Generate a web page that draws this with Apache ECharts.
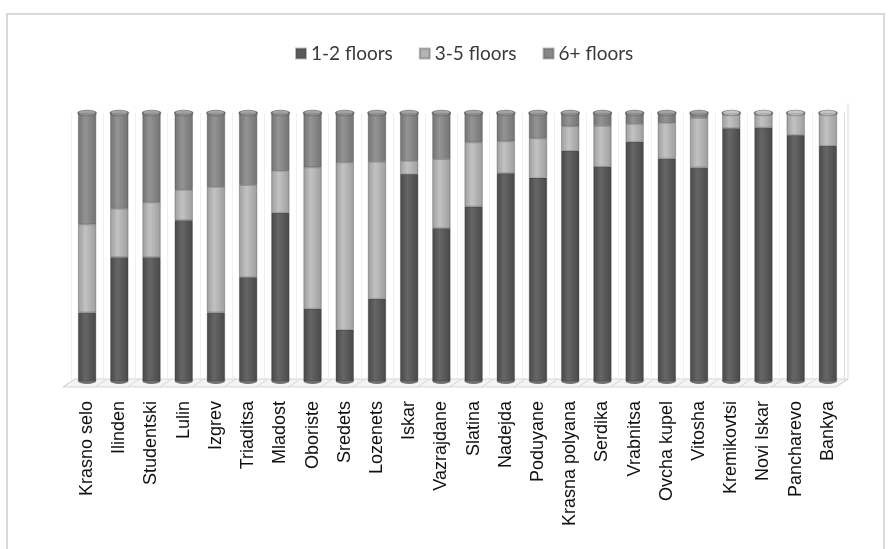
<!DOCTYPE html>
<html>
<head>
<meta charset="utf-8">
<script src="https://cdn.jsdelivr.net/npm/echarts@6/dist/echarts.min.js"></script>
<style>
  html, body { margin: 0; padding: 0; background: #fff; }
  #chart { width: 893px; height: 549px; }
</style>
</head>
<body>
<div id="chart"></div>
<script>
// Sofia districts: share of buildings by number of floors (%)
const districts = ['Krasno selo', 'Ilinden', 'Studentski', 'Lulin', 'Izgrev', 'Triaditsa', 'Mladost',
  'Oboriste', 'Sredets', 'Lozenets', 'Iskar', 'Vazrajdane', 'Slatina', 'Nadejda', 'Poduyane',
  'Krasna polyana', 'Serdika', 'Vrabnitsa', 'Ovcha kupel', 'Vitosha', 'Kremikovtsi', 'Novi Iskar',
  'Pancharevo', 'Bankya'];

const floors12 = [25.6, 46.2, 46.2, 60.0, 25.6, 38.7, 62.8, 27.0, 19.1, 30.7, 77.2, 57.0,
  65.1, 77.5, 75.8, 85.9, 80.0, 89.3, 83.0, 79.7, 94.3, 94.6, 91.8, 87.8];
const floors35 = [32.8, 18.1, 20.4, 11.3, 46.8, 34.4, 15.6, 52.7, 62.4, 51.1, 4.9, 25.8,
  23.9, 11.9, 14.7, 9.1, 15.2, 6.6, 13.3, 18.4, 5.0, 4.7, 7.8, 11.8];
const floors6 = [41.6, 35.7, 33.4, 28.7, 27.6, 26.9, 21.6, 20.3, 18.5, 18.2, 17.9, 17.2,
  11.0, 10.6, 9.5, 5.0, 4.8, 4.1, 3.7, 1.9, 0.7, 0.7, 0.4, 0.4];

const seriesNames = ['1-2 floors', '3-5 floors', '6+ floors'];

function cylinder(edge, mid) {
  return new echarts.graphic.LinearGradient(0, 0, 1, 0, [
    { offset: 0, color: edge },
    { offset: 0.4, color: mid },
    { offset: 1, color: edge }
  ]);
}
const fills = [
  cylinder('#484848', '#666666'),
  cylinder('#9e9e9e', '#c2c2c2'),
  cylinder('#737373', '#949494')
];
const legendColors = ['#595959', '#b3b3b3', '#878787'];

const chart = echarts.init(document.getElementById('chart'), null, { renderer: 'canvas' });

const stackSeries = [floors12, floors35, floors6].map((vals, i) => ({
  name: seriesNames[i],
  type: 'bar',
  stack: 'share',
  barWidth: 18,
  data: vals,
  itemStyle: { color: fills[i], borderColor: 'rgba(60,60,60,0.35)', borderWidth: 0.5 },
  z: 3
}));

// elliptical top faces take the colour of the uppermost segment
const topCaps = districts.map((d, i) => ({
  value: floors12[i] + floors35[i] + floors6[i],
  itemStyle: { color: floors6[i] >= 1 ? '#8e8e8e' : '#b8b8b8' }
}));
const bottomCaps = districts.map(() => 0);

chart.setOption({
  animation: false,
  backgroundColor: '#ffffff',
  legend: {
    data: seriesNames.map((n, i) => ({ name: n, itemStyle: { color: legendColors[i] } })),
    top: 39,
    left: 290,
    itemWidth: 10,
    itemHeight: 10,
    itemGap: 26,
    icon: 'rect',
    textStyle: { fontFamily: 'Lato', fontSize: 19, color: '#3a3a3a' }
  },
  grid: { left: 71, right: 49, top: 113, bottom: 168, containLabel: false },
  xAxis: {
    type: 'category',
    data: districts,
    axisLine: { show: false },
    axisTick: { show: false },
    splitLine: { show: true, lineStyle: { color: '#f0f0f0', width: 1 } },
    axisLabel: {
      rotate: 90,
      interval: 0,
      margin: 20,
      fontFamily: 'Liberation Sans',
      fontSize: 18,
      color: '#111111'
    }
  },
  yAxis: {
    type: 'value',
    min: 0,
    max: 100,
    position: 'right',
    axisLabel: { show: false },
    axisTick: { show: false },
    splitLine: { show: false },
    axisLine: { show: true, lineStyle: { color: '#dcdcdc', width: 1 } }
  },
  series: stackSeries.concat([
    {
      type: 'scatter',
      data: bottomCaps,
      symbol: 'circle',
      symbolSize: [18, 6],
      itemStyle: { color: '#505050' },
      z: 2,
      silent: true
    },
    {
      type: 'scatter',
      data: topCaps,
      symbol: 'circle',
      symbolSize: [18, 6],
      itemStyle: { borderColor: '#5a5a5a', borderWidth: 1 },
      z: 4,
      silent: true
    }
  ])
});

// 3D-style floor under the columns and the chart frame
const y0 = chart.convertToPixel({ yAxisIndex: 0 }, 0);
const xL = chart.convertToPixel({ xAxisIndex: 0 }, districts[0]) - 16.1;
const xR = chart.convertToPixel({ xAxisIndex: 0 }, districts[districts.length - 1]) + 16.1;
const step = (xR - xL) / districts.length;
const floorEls = [{
  type: 'polygon',
  shape: { points: [[xL - 8, y0 + 6], [xR - 8, y0 + 6], [xR + 4, y0 - 2], [xL + 4, y0 - 2]] },
  style: { fill: '#f4f4f4', stroke: '#d6d6d6', lineWidth: 1 },
  z: 0
}];
for (let k = 0; k <= districts.length; k++) {
  const bx = xL + k * step;
  floorEls.push({
    type: 'line',
    shape: { x1: bx - 8, y1: y0 + 6, x2: bx + 4, y2: y0 - 2 },
    style: { stroke: '#d6d6d6', lineWidth: 1 },
    z: 0
  });
}
floorEls.push({
  type: 'line',
  shape: { x1: xR + 4, y1: y0 - 2, x2: xR + 4, y2: 103 },
  style: { stroke: '#dcdcdc', lineWidth: 1 },
  z: 0
});
floorEls.push({
  type: 'rect',
  shape: { x: 7, y: 14, width: 877, height: 560 },
  style: { fill: 'none', stroke: '#d9d9d9', lineWidth: 2 },
  z: 0
});
chart.setOption({ graphic: { elements: floorEls } });
</script>
</body>
</html>
